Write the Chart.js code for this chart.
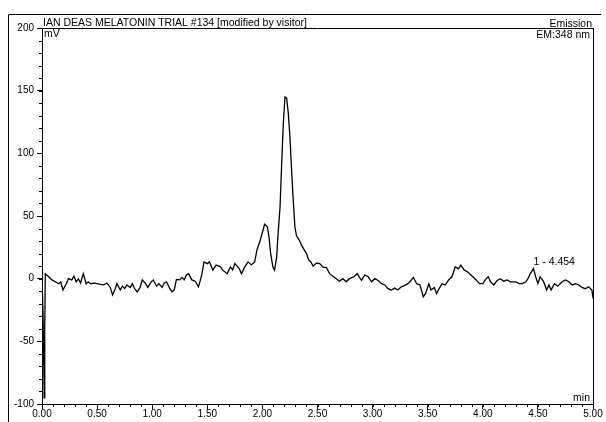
<!DOCTYPE html>
<html>
<head>
<meta charset="utf-8">
<script src="https://cdn.jsdelivr.net/npm/chart.js@4.4.1/dist/chart.umd.min.js"></script>
<style>
  html, body { margin: 0; padding: 0; background: #fff; }
  #chart { display: block; }
</style>
</head>
<body>
<canvas id="chart" width="606" height="422"></canvas>
<script>
// trace (minutes, mV)
const timeMin = [
  0.00, 0.01, 0.02, 0.025, 0.03, 0.06, 0.09, 0.12, 0.15, 0.17, 0.19, 0.22, 0.24, 0.27, 0.29,
  0.31, 0.33, 0.35, 0.375, 0.40, 0.42, 0.44, 0.47, 0.50, 0.53, 0.56, 0.59, 0.62, 0.64, 0.66,
  0.68, 0.71, 0.73, 0.75, 0.77, 0.80, 0.82, 0.84, 0.865, 0.89, 0.91, 0.94, 0.96, 0.99, 1.01,
  1.04, 1.06, 1.09, 1.11, 1.13, 1.16, 1.18, 1.20, 1.22, 1.25, 1.27, 1.29, 1.31, 1.33, 1.36,
  1.39, 1.42, 1.45, 1.47, 1.50, 1.52, 1.55, 1.58, 1.62, 1.64, 1.68, 1.71, 1.73, 1.75, 1.79,
  1.81, 1.84, 1.87, 1.90, 1.93, 1.95, 1.98, 2.01, 2.02, 2.045, 2.06, 2.075, 2.095, 2.11, 2.13,
  2.14, 2.16, 2.175, 2.19, 2.205, 2.22, 2.235, 2.25, 2.265, 2.28, 2.295, 2.31, 2.335, 2.355, 2.38,
  2.40, 2.42, 2.44, 2.46, 2.49, 2.52, 2.55, 2.58, 2.61, 2.64, 2.67, 2.70, 2.73, 2.76, 2.79,
  2.83, 2.86, 2.88, 2.90, 2.93, 2.96, 2.99, 3.02, 3.05, 3.08, 3.11, 3.14, 3.17, 3.20, 3.23,
  3.26, 3.29, 3.32, 3.35, 3.37, 3.40, 3.43, 3.46, 3.48, 3.51, 3.53, 3.56, 3.58, 3.61, 3.63,
  3.66, 3.69, 3.72, 3.75, 3.78, 3.80, 3.83, 3.86, 3.88, 3.91, 3.94, 3.97, 4.00, 4.03, 4.05,
  4.07, 4.10, 4.13, 4.16, 4.19, 4.22, 4.25, 4.30, 4.33, 4.36, 4.39, 4.41, 4.43, 4.46, 4.48,
  4.50, 4.52, 4.55, 4.58, 4.60, 4.62, 4.65, 4.68, 4.72, 4.75, 4.78, 4.81, 4.84, 4.87, 4.90,
  4.93, 4.96, 4.99, 5.00
];
const signalMv = [
  2, -30, -95, -40, 4, 1.5, -1, -2.5, -4, -2.5, -9, -4, 0, -1, 2,
  -2.5, 0, -3.5, 4, -4, -2.5, -4, -3.5, -4, -4.6, -5, -3.5, -7, -13, -9,
  -4, -9, -6, -8, -5, -7, -4, -8, -10.5, -7, -1, -4, -7, -2.5, -1,
  -6, -4, -7, -3.5, -2.5, -8, -10.5, -9, -0.6, -1, 1, -1, 3, 4, -1,
  -2, -6.5, 3, 13.4, 12, 13.4, 6.8, 10.8, 9.4, 6.8, 4, 9.4, 7, 12, 8,
  4, 9.4, 13.4, 11, 13.4, 22.7, 30.7, 40, 43.5, 41.3, 33.4, 20, 9.4, 6.8, 17.4,
  33, 57, 92, 124, 145, 144, 132, 113, 86.6, 62.6, 41.3, 34, 30.7, 26.7, 23,
  20, 14.8, 13.4, 10, 12.5, 12, 9, 9, 4, 2, 0, -2, 0, -2.5, 0,
  1.5, 4, 1, -1.3, 3, 1.5, -2.5, 0, -1.5, -4, -5, -8, -9, -7.5, -9,
  -6.5, -5.5, -4, -1.3, 1, -4, -5, -14.5, -12, -4, -9, -7, -12, -7, -4,
  -5, -1, 1.5, 9.4, 8, 10.8, 7, 5.5, 4, 1.5, -1, -4, -4, 0, 1.5,
  -2.5, -5, -1.5, 0, -2, -1, -2.5, -2.5, -4, -4, -2.5, 0, 4, 8, 1.5,
  -4, 1.5, -2, -9, -5, -9, -4, -6, -2.5, -1, -2.5, -5, -4, -5, -7,
  -8, -6.5, -9, -15.8
];

const xRange = [0, 5];
const xStep = 0.5;
const xMinorStep = 0.1;
const yRange = [-100, 200];
const yStep = 50;
const yMinorStep = 10;

const titleText = "IAN DEAS MELATONIN TRIAL #134 [modified by visitor]";
const peakTag = "1 - 4.454";
const peakTagAt = [4.46, 13];

const FONT = "'Liberation Sans', Arial, sans-serif";

const frame = {
  id: "frame",
  afterDraw(chart) {
    const ctx = chart.ctx;
    const area = chart.chartArea;
    const xs = chart.scales.x;
    const ys = chart.scales.y;
    ctx.save();
    ctx.strokeStyle = "#000";
    ctx.lineWidth = 1;

    // outer page frame and plot box
    ctx.beginPath();
    ctx.moveTo(8.5, 422);
    ctx.lineTo(8.5, 14.5);
    ctx.lineTo(601, 14.5);
    ctx.moveTo(area.left, Math.round(area.top) + 0.5);
    ctx.lineTo(area.right, Math.round(area.top) + 0.5);
    ctx.moveTo(Math.round(area.right) + 0.5, area.top);
    ctx.lineTo(Math.round(area.right) + 0.5, area.bottom);
    ctx.stroke();

    // minor ticks
    ctx.beginPath();
    for (let t = xRange[0]; t <= xRange[1] + 1e-9; t += xMinorStep) {
      const px = Math.round(xs.getPixelForValue(t)) + 0.5;
      ctx.moveTo(px, area.bottom);
      ctx.lineTo(px, area.bottom + 3);
    }
    for (let v = yRange[0]; v <= yRange[1]; v += yMinorStep) {
      const py = Math.round(ys.getPixelForValue(v)) + 0.5;
      ctx.moveTo(area.left - 3, py);
      ctx.lineTo(area.left, py);
    }
    ctx.stroke();

    // texts
    ctx.fillStyle = "#000";
    ctx.font = "10.5px " + FONT;
    ctx.textBaseline = "middle";
    ctx.textAlign = "left";
    ctx.fillText(titleText, area.left + 1, 23);
    ctx.fillText("mV", area.left + 2, 34);
    ctx.textAlign = "right";
    ctx.fillText("Emission", area.right - 1, 24);
    ctx.fillText("EM:348 nm", area.right - 3, 35);
    ctx.fillText("min", area.right - 3, area.bottom - 6);

    // peak tag
    ctx.textAlign = "left";
    ctx.fillText(peakTag, xs.getPixelForValue(peakTagAt[0]), ys.getPixelForValue(peakTagAt[1]));
    ctx.restore();
  }
};

new Chart(document.getElementById("chart"), {
  type: "line",
  data: {
    datasets: [{
      data: timeMin.map((t, i) => ({ x: t, y: signalMv[i] })),
      borderColor: "#000",
      borderWidth: 1.3,
      pointRadius: 0,
      tension: 0,
      fill: false
    }]
  },
  options: {
    responsive: false,
    animation: false,
    layout: { padding: { top: 28, right: 13, bottom: 0, left: 0 } },
    plugins: { legend: { display: false }, tooltip: { enabled: false } },
    scales: {
      x: {
        type: "linear",
        min: xRange[0],
        max: xRange[1],
        afterFit: (s) => { s.height = 18; },
        border: { display: true, color: "#000", width: 1 },
        grid: { drawOnChartArea: false, drawTicks: true, tickLength: 5, tickColor: "#000" },
        ticks: {
          stepSize: xStep,
          padding: 0,
          color: "#000",
          maxRotation: 0,
          font: { family: FONT, size: 10, lineHeight: 1 },
          callback: (v) => Number(v).toFixed(2)
        }
      },
      y: {
        min: yRange[0],
        max: yRange[1],
        afterFit: (s) => { s.width = 42; },
        border: { display: true, color: "#000", width: 1 },
        grid: { drawOnChartArea: false, drawTicks: true, tickLength: 5, tickColor: "#000" },
        ticks: {
          stepSize: yStep,
          padding: 3,
          color: "#000",
          font: { family: FONT, size: 10 }
        }
      }
    }
  },
  plugins: [frame]
});
</script>
</body>
</html>
